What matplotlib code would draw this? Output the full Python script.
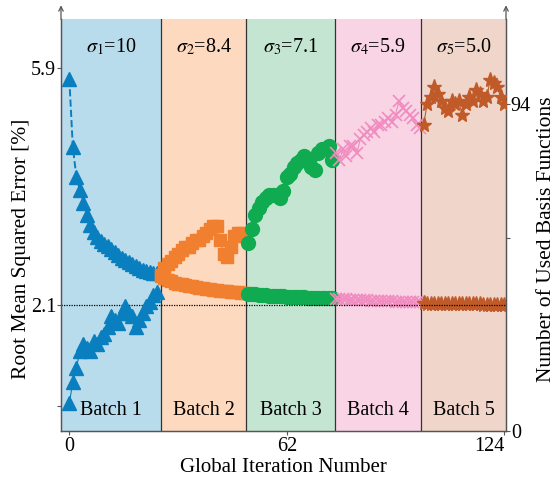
import numpy as np
import matplotlib
matplotlib.use("Agg")
import matplotlib.pyplot as plt

plt.rcParams["font.family"] = ["Liberation Serif", "DejaVu Serif"]
plt.rcParams["mathtext.fontset"] = "stix"

# ---- data -------------------------------------------------------------
batch_names = ["Batch 1", "Batch 2", "Batch 3", "Batch 4", "Batch 5"]
sigma_values = ["10", "8.4", "7.1", "5.9", "5.0"]
batch_edges = [-2.37, 26.2, 50.4, 75.8, 100.3, 124.5]

iters_b1 = list(range(0, 26))
iters_b2 = list(range(26, 51))
iters_b3 = list(range(51, 76))
iters_b4 = list(range(76, 101))
iters_b5 = list(range(101, 125))

rmse_b1 = [5.73, 4.64, 4.16, 3.95, 3.74, 3.54, 3.38, 3.28, 3.20, 3.13,
           3.08, 3.04, 3.00, 2.95, 2.90, 2.86, 2.83, 2.79, 2.76, 2.72,
           2.69, 2.66, 2.64, 2.63, 2.62, 2.61]
rmse_b2 = [2.56, 2.53, 2.50, 2.48, 2.46, 2.44, 2.43, 2.42, 2.41, 2.40,
           2.39, 2.38, 2.37, 2.36, 2.35, 2.345, 2.34, 2.33, 2.325, 2.32,
           2.315, 2.31, 2.305, 2.30, 2.295]
rmse_b3 = [2.28, 2.275, 2.27, 2.265, 2.26, 2.255, 2.25, 2.247, 2.244, 2.241,
           2.238, 2.235, 2.232, 2.23, 2.227, 2.225, 2.222, 2.22, 2.218, 2.216,
           2.214, 2.212, 2.21, 2.208, 2.206]
rmse_b4 = [2.20, 2.197, 2.194, 2.191, 2.188, 2.185, 2.182, 2.179, 2.176, 2.173,
           2.17, 2.168, 2.166, 2.164, 2.162, 2.16, 2.158, 2.156, 2.154, 2.152,
           2.15, 2.148, 2.146, 2.144, 2.142]
rmse_b5 = [2.125, 2.124, 2.123, 2.122, 2.121, 2.12, 2.119, 2.118, 2.117, 2.116,
           2.115, 2.114, 2.113, 2.112, 2.111, 2.11, 2.109, 2.108, 2.107, 2.106,
           2.105, 2.104, 2.103, 2.102]

nbasis_b1 = [8, 14, 18, 23, 25, 24, 23, 26, 25, 27, 28, 30, 33, 32, 31, 34,
             36, 34, 33, 30, 32, 34, 36, 37, 39, 40]
nbasis_b2 = [45, 47, 48, 49, 50, 51, 52, 53, 53, 54, 55, 55, 56, 57, 58, 59,
             59, 55, 51, 50, 53, 56, 57, 57, 56]
nbasis_b3 = [54, 58, 62, 64, 66, 67, 68, 68, 68, 67, 69, 73, 74, 76, 77, 78,
             79, 78, 76, 75, 80, 81, 81, 82, 78]
nbasis_b4 = [80, 78, 81, 79, 82, 82, 80, 84, 85, 86, 87, 86, 88, 88, 89, 90,
             89, 91, 95, 93, 92, 91, 90, 88, 87]
nbasis_b5 = [88, 94, 96, 99, 97, 95, 93, 92, 95, 94, 95, 91, 94, 96, 95, 98,
             97, 95, 96, 101, 100, 99, 96, 94]

rmse_ticks = [0.48, 2.1, 5.9]
rmse_ticklabels = ["", "2.1", "5.9"]
basis_ticks = [0, 55.5, 94]
basis_ticklabels = ["0", "", "94"]
x_ticks = [0, 62, 124]

# ---- styles -------------------------------------------------------------
shade_colors = ["#b9dcec", "#fdd9bf", "#c3e5d1", "#f9d4e5", "#f0d6ca"]
mark_colors = ["#0a7fc0", "#f08030", "#10ab50", "#f08cc0", "#c05a28"]
markers = ["^", "s", "o", "x", "*"]
msizes = [9.5, 8, 10, 9, 11]

iters = [iters_b1, iters_b2, iters_b3, iters_b4, iters_b5]
rmse = [rmse_b1, rmse_b2, rmse_b3, rmse_b4, rmse_b5]
nbasis = [nbasis_b1, nbasis_b2, nbasis_b3, nbasis_b4, nbasis_b5]

fig = plt.figure(figsize=(5.55, 4.78), dpi=100)
ax = fig.add_axes([61 / 555, 1 - 431 / 478, 445 / 555, 411.7 / 478])
ax2 = ax.twinx()

ax.set_xlim(batch_edges[0], batch_edges[-1])
ax.set_ylim(0.078, 6.687)
ax2.set_ylim(0, 118.4)

spine_col = "#555555"
for k in range(5):
    ax.axvspan(batch_edges[k], batch_edges[k + 1], color=shade_colors[k],
               lw=0, zorder=0)
    if k > 0:
        ax.axvline(batch_edges[k], color="#333333", lw=0.9, zorder=1)

for k in range(5):
    mew = 1.2 if markers[k] == "x" else 1
    ax.plot(iters[k], rmse[k], ls="--", lw=1.4, color=mark_colors[k],
            marker=markers[k], ms=msizes[k], mew=mew, zorder=3)
    ax2.plot(iters[k], nbasis[k], ls="-", lw=0.8, color=mark_colors[k],
             marker=markers[k], ms=msizes[k], mew=mew, zorder=3)

ax.axhline(2.1, color="black", lw=0.9, ls=(0, (1, 1)), zorder=4)

# batch annotations
for k in range(5):
    xc = 0.5 * (batch_edges[k] + batch_edges[k + 1])
    ax.text(xc, 0.051, batch_names[k], transform=ax.get_xaxis_transform(),
            ha="center", va="center", fontsize=14.5, zorder=5)
    ax.text(xc, 0.932,
            r"$\sigma_{\mathit{%d}}$=%s" % (k + 1, sigma_values[k]),
            transform=ax.get_xaxis_transform(),
            ha="center", va="center", fontsize=14.5, zorder=5)

# axes styling
ax.set_xticks(x_ticks)
ax.set_xticklabels([str(t) for t in x_ticks])
ax.get_xticklabels()[-1].set_horizontalalignment("right")
ax.set_yticks(rmse_ticks)
ax.set_yticklabels(rmse_ticklabels)
ax2.set_yticks(basis_ticks)
ax2.set_yticklabels(basis_ticklabels)

for a in (ax, ax2):
    a.tick_params(labelsize=14.5, length=3, width=0.8, color=spine_col,
                  pad=0.5)
    a.spines["top"].set_visible(False)
    for s in ("left", "right", "bottom"):
        a.spines[s].set_color(spine_col)
        a.spines[s].set_linewidth(0.9)
ax.tick_params(axis="x", pad=1.5)

ax.set_xlabel("Global Iteration Number", fontsize=15, labelpad=1.5)
ax.set_ylabel("Root Mean Squared Error [%]", fontsize=15.5)
ax.yaxis.set_label_coords(-0.068, 0.442)
ax2.set_ylabel("Number of Used Basis Functions", fontsize=15.5, rotation=90)
ax2.yaxis.set_label_coords(1.07, 0.466)

# arrowheads on top of the vertical axes
for xf in (0.0, 1.0):
    ax.annotate("", xy=(xf, 1.0 + 14 / 411.7), xytext=(xf, 1.0),
                xycoords="axes fraction",
                arrowprops=dict(arrowstyle="->", color=spine_col, lw=0.9,
                                shrinkA=0, shrinkB=0,
                                mutation_scale=8),
                annotation_clip=False)

fig.savefig("out.png", dpi=100)
